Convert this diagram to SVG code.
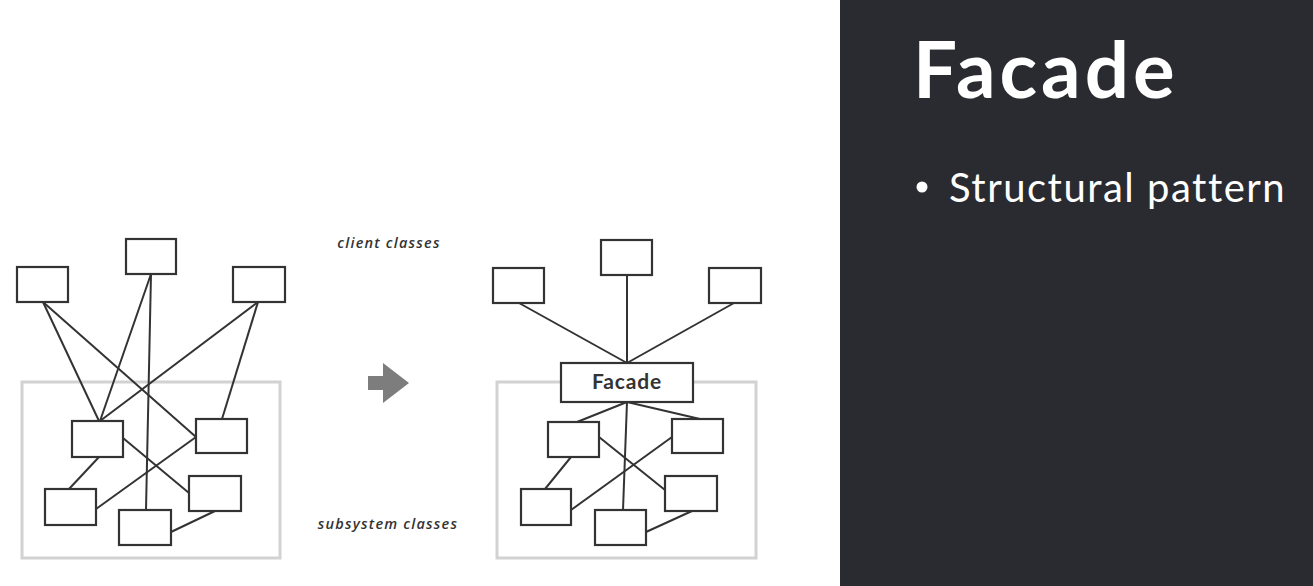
<svg xmlns="http://www.w3.org/2000/svg" width="1313" height="586" viewBox="0 0 1313 586">
<style>
.box{fill:#fff;stroke:#333;stroke-width:2.2}
.cont{fill:none;stroke:#d2d2d2;stroke-width:3}
.ln{stroke:#333;stroke-width:2;fill:none}
.lbl{font-family:"Open Sans","Liberation Sans",sans-serif;font-style:italic;font-weight:600;font-size:14.5px;letter-spacing:1.2px;fill:#333}
.ttl{font-family:Lato,"Liberation Sans",sans-serif;font-weight:bold;font-size:78px;letter-spacing:4px;fill:#fff}
.bul{font-family:Lato,"Liberation Sans",sans-serif;font-size:40px;letter-spacing:1.5px;fill:#fff}
.fac{font-family:Lato,"Liberation Sans",sans-serif;font-weight:bold;font-size:21px;letter-spacing:0.8px;fill:#333}
</style>
<rect x="0" y="0" width="1313" height="586" fill="#fff"/>
<rect id="panel" x="840" y="0" width="473" height="586" fill="#2a2b30"/>
<g id="title"><text class="ttl" x="913" y="98">Facade</text></g>
<g id="bullet"><circle cx="922" cy="187" r="5.5" fill="#fff"/><text class="bul" x="949" y="202">Structural pattern</text></g>

<rect id="left-container" class="cont" x="22" y="382" width="258" height="176"/>
<rect id="right-container" class="cont" x="497" y="382" width="259" height="176"/>

<g id="connectors">
<line class="ln" x1="43" y1="302" x2="99" y2="421"/>
<line class="ln" x1="43" y1="302" x2="196" y2="437"/>
<line class="ln" x1="151" y1="274" x2="100" y2="421"/>
<line class="ln" x1="151" y1="274" x2="146" y2="510"/>
<line class="ln" x1="258" y1="302" x2="100" y2="421"/>
<line class="ln" x1="258" y1="302" x2="222" y2="419"/>
<line class="ln" x1="99" y1="457" x2="69" y2="489"/>
<line class="ln" x1="123" y1="438" x2="189" y2="493"/>
<line class="ln" x1="196" y1="437" x2="96" y2="509"/>
<line class="ln" x1="215" y1="511" x2="171" y2="532"/>

<line class="ln" x1="519" y1="303" x2="627" y2="363"/>
<line class="ln" x1="627" y1="275" x2="627" y2="363"/>
<line class="ln" x1="734" y1="303" x2="627" y2="363"/>
<line class="ln" x1="627" y1="402" x2="577" y2="422"/>
<line class="ln" x1="627" y1="402" x2="623" y2="510"/>
<line class="ln" x1="627" y1="402" x2="700" y2="419"/>
<line class="ln" x1="571" y1="457" x2="545" y2="489"/>
<line class="ln" x1="599" y1="437" x2="665" y2="490"/>
<line class="ln" x1="672" y1="437" x2="571" y2="510"/>
<line class="ln" x1="692" y1="511" x2="646" y2="532"/>
</g>

<g id="l-client-a"><rect class="box" x="17" y="267" width="51" height="35"/></g>
<g id="l-client-b"><rect class="box" x="126" y="239" width="50" height="35"/></g>
<g id="l-client-c"><rect class="box" x="233" y="267" width="52" height="35"/></g>
<g id="l-sub-d"><rect class="box" x="72" y="421" width="51" height="36"/></g>
<g id="l-sub-e"><rect class="box" x="196" y="419" width="51" height="34"/></g>
<g id="l-sub-f"><rect class="box" x="45" y="489" width="51" height="36"/></g>
<g id="l-sub-g"><rect class="box" x="189" y="476" width="52" height="35"/></g>
<g id="l-sub-h"><rect class="box" x="119" y="510" width="52" height="35"/></g>

<g id="r-client-a"><rect class="box" x="493" y="268" width="51" height="35"/></g>
<g id="r-client-b"><rect class="box" x="601" y="240" width="51" height="35"/></g>
<g id="r-client-c"><rect class="box" x="709" y="268" width="52" height="35"/></g>
<g id="r-facade"><rect class="box" x="561" y="363" width="132" height="39"/><text class="fac" x="627" y="389" text-anchor="middle">Facade</text></g>
<g id="r-sub-d"><rect class="box" x="548" y="422" width="51" height="35"/></g>
<g id="r-sub-e"><rect class="box" x="672" y="419" width="51" height="34"/></g>
<g id="r-sub-f"><rect class="box" x="521" y="489" width="50" height="36"/></g>
<g id="r-sub-g"><rect class="box" x="665" y="476" width="52" height="35"/></g>
<g id="r-sub-h"><rect class="box" x="595" y="510" width="51" height="35"/></g>

<g id="arrow"><polygon points="368,376 383,376 383,363 409,383 383,403 383,390 368,390" fill="#7d7d7d"/></g>
<g id="label-client"><text class="lbl" x="389" y="248" text-anchor="middle">client classes</text></g>
<g id="label-subsystem"><text class="lbl" x="388" y="529" text-anchor="middle">subsystem classes</text></g>
</svg>
